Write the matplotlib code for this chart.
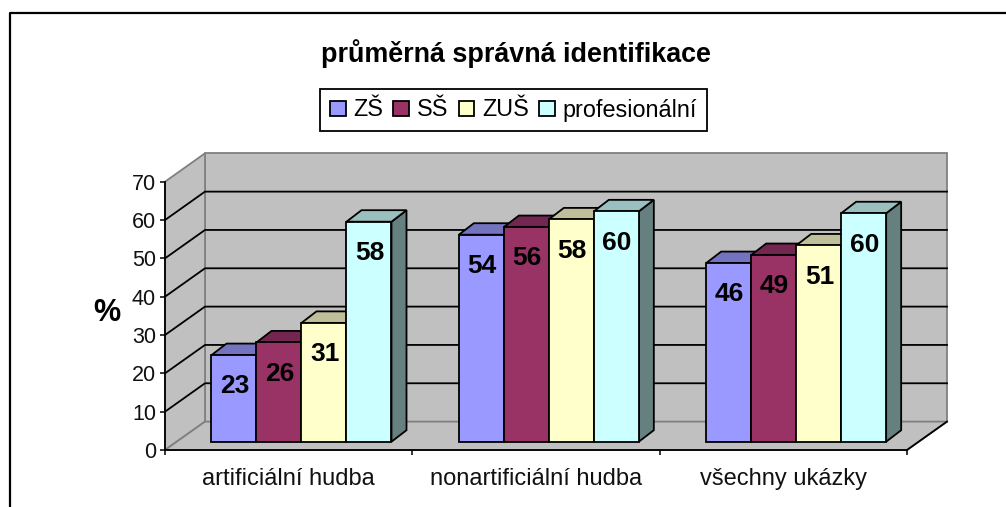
import matplotlib
matplotlib.use('Agg')
import matplotlib.pyplot as plt
from matplotlib.patches import Polygon, Patch
from matplotlib.lines import Line2D

plt.rcParams['font.family'] = ['Liberation Sans', 'DejaVu Sans']

categories = ['artificiální hudba', 'nonartificiální hudba', 'všechny ukázky']
series = ['ZŠ', 'SŠ', 'ZUŠ', 'profesionální']
# bar heights as measured, printed labels kept apart
zs = [22.6, 54.0, 46.6]
ss = [25.9, 56.0, 48.7]
zus = [31.0, 58.0, 51.2]
prof = [57.4, 60.1, 59.6]
zs_labels = [23, 54, 46]
ss_labels = [26, 56, 49]
zus_labels = [31, 58, 51]
prof_labels = [58, 60, 60]
y_ticks = [0, 10, 20, 30, 40, 50, 60, 70]

front = ['#9999FF', '#993366', '#FFFFCC', '#CCFFFF']
tops = ['#7373BF', '#732650', '#BFBF99', '#99BFBF']
sides = ['#4D4D80', '#4D1A33', '#808066', '#668080']

W, H = 1006, 507
fig = plt.figure(figsize=(W / 100, H / 100), dpi=100)
# axes is the front plane of the 3d box
x0, x1, y0, y1 = 165, 907, 450, 181.7
ax = fig.add_axes([x0 / W, 1 - y0 / H, (x1 - x0) / W, (y0 - y1) / H])
ax.set_xlim(0, 3)
ax.set_ylim(0, 70)
ax.patch.set_visible(False)

ux = 3 / (x1 - x0)
uy = 70 / (y0 - y1)
# wall depth and bar depth
dx, dy = 40 * ux, 28.4 * uy
bdx, bdy = 15 * ux, 11.5 * uy
base = 8.3 * uy
bw = 45 * ux
start = 0.188

# walls and floor
wall = dict(facecolor='#C0C0C0', edgecolor='#808080', lw=1.3, clip_on=False, zorder=1)
ax.add_patch(Polygon([(dx, dy), (3 + dx, dy), (3 + dx, 70 + dy), (dx, 70 + dy)], **wall))
ax.add_patch(Polygon([(0, 0), (dx, dy), (dx, 70 + dy), (0, 70)], **wall))
ax.add_patch(Polygon([(0, 0), (3, 0), (3 + dx, dy), (dx, dy)], facecolor='#C0C0C0',
                     edgecolor='#808080', lw=1.3, clip_on=False, zorder=1))
for v in y_ticks[1:-1]:
    ax.plot([0, dx, 3 + dx], [v, v + dy, v + dy], color='black', lw=1.3, clip_on=False, zorder=2)
ax.plot([3, 3 + dx], [0, dy], color='black', lw=1.3, clip_on=False, zorder=2)

values = [zs, ss, zus, prof]
labels = [zs_labels, ss_labels, zus_labels, prof_labels]
for g in range(len(categories)):
    for s in range(len(series)):
        left = g + start + s * bw
        right = left + bw
        top = base + values[s][g]
        edge = dict(edgecolor='black', lw=1.3, clip_on=False, zorder=3, joinstyle='miter')
        ax.add_patch(Polygon([(right, base), (right + bdx, base + bdy), (right + bdx, top + bdy), (right, top)],
                             facecolor=sides[s], **edge))
        ax.add_patch(Polygon([(left, top), (right, top), (right + bdx, top + bdy), (left + bdx, top + bdy)],
                             facecolor=tops[s], **edge))
        ax.add_patch(Polygon([(left, base), (right, base), (right, top), (left, top)],
                             facecolor=front[s], **edge))
        ax.annotate(str(labels[s][g]), (left + bw / 2, top), xytext=(0.5, -22.5), textcoords='offset points',
                    ha='center', va='center', fontsize=19, fontweight='bold', color='black', zorder=5)

for side in ['top', 'right']:
    ax.spines[side].set_visible(False)
for side in ['left', 'bottom']:
    ax.spines[side].set_linewidth(1.3)
    ax.spines[side].set_zorder(4)
ax.set_yticks(y_ticks)
ax.set_xticks([0, 1, 2, 3])
ax.set_xticklabels([])
ax.set_xticks([0.5, 1.5, 2.5], minor=True)
ax.set_xticklabels(categories, minor=True)
ax.tick_params(axis='x', which='minor', length=0, labelsize=17, pad=13, colors='#111111')
ax.tick_params(axis='x', which='major', length=3.5, width=1.1)
ax.tick_params(axis='y', length=3.5, width=1.1, labelsize=15.5, pad=3, labelcolor='#111111')
ax.set_ylabel('%', rotation=0, fontsize=22, fontweight='bold', ha='center', va='center')
ax.yaxis.set_label_coords((107 - x0) / (x1 - x0), (y0 - 313) / (y0 - y1))

fig.text(516 / W, 1 - 54 / H, 'průměrná správná identifikace', ha='center', va='center',
         fontsize=19.4, fontweight='bold')

handles = [Patch(facecolor=c, edgecolor='black', lw=1.3) for c in front]
leg = fig.legend(handles, series, ncol=4, loc='center', bbox_to_anchor=(513.5 / W, 1 - 110 / H),
                 fontsize=16.8, frameon=True, fancybox=False, edgecolor='black', framealpha=1,
                 handlelength=0.68, handleheight=0.65, handletextpad=0.34, columnspacing=0.42,
                 borderpad=0.42, borderaxespad=0)
leg.get_frame().set_linewidth(1.3)

# outer chart frame, only left and top are inside the crop
fig.add_artist(Line2D([9.5 / W, 9.5 / W, 1], [0, 1 - 13 / H, 1 - 13 / H], color='black', lw=1.6))

fig.savefig('out.png', dpi=100)
